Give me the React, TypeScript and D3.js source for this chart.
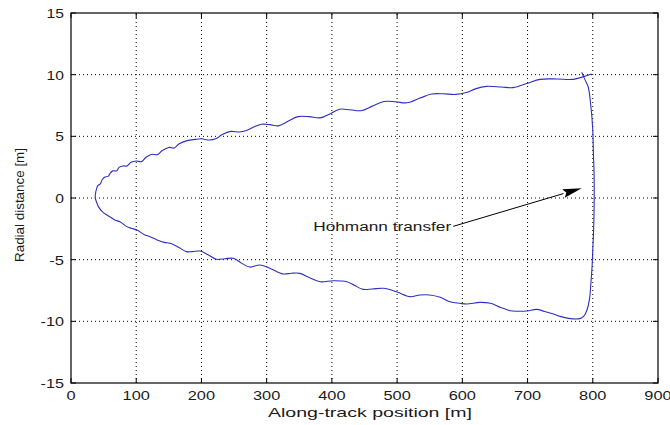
import React from "react";
import * as d3 from "d3";

// Upper branch of the relative trajectory, left to right (along-track m, radial m)
const upperX = [37, 38, 41, 45, 48, 52, 57, 60, 64, 70, 74, 80, 86, 92, 100, 108, 115, 124, 132, 140, 150, 158, 166, 178, 190, 200, 212, 222, 232, 245, 258, 268, 280, 292, 305, 318, 332, 348, 365, 382, 396, 412, 428, 445, 462, 480, 498, 515, 535, 553, 570, 590, 606, 620, 637, 660, 678, 700, 719, 745, 770, 786, 798];
const upperY = [0, 0.5, 1.0, 1.15, 1.5, 1.7, 1.75, 2.0, 2.2, 2.2, 2.5, 2.6, 2.6, 2.9, 3.0, 2.95, 3.3, 3.55, 3.5, 3.85, 4.1, 4.05, 4.4, 4.65, 4.75, 4.8, 4.7, 4.8, 5.15, 5.4, 5.35, 5.45, 5.75, 5.98, 5.95, 5.85, 6.2, 6.6, 6.6, 6.5, 6.8, 7.2, 7.15, 7.08, 7.45, 7.82, 7.8, 7.72, 8.1, 8.43, 8.45, 8.4, 8.55, 8.85, 9.05, 9.0, 8.95, 9.3, 9.62, 9.65, 9.62, 9.84, 10.05];

// Right-hand descent and lower branch, right to left
const lowerX = [783, 788, 793, 797, 800, 801, 802, 802, 801, 800, 799, 797, 795, 791, 786, 780, 763, 750, 740, 726, 714, 699, 685, 673, 658, 643, 627, 607, 596, 581, 566, 550, 535, 520, 499, 479, 462, 448, 435, 423, 402, 382, 365, 351, 338, 325, 307, 290, 274, 262, 249, 236, 223, 210, 198, 186, 177, 165, 152, 143, 132, 121, 112, 101, 92, 85, 75, 68, 62, 55, 48, 42, 39, 37];
const lowerY = [10.2, 9.6, 9.0, 7.5, 5.5, 3.5, 2.0, -1.0, -3.0, -4.2, -5.5, -7.0, -8.2, -9.1, -9.6, -9.78, -9.76, -9.6, -9.41, -9.2, -9.03, -9.16, -9.18, -9.14, -8.85, -8.54, -8.46, -8.6, -8.54, -8.41, -8.05, -7.86, -7.86, -8.0, -7.6, -7.32, -7.38, -7.41, -7.1, -6.79, -6.71, -6.79, -6.45, -6.11, -6.1, -6.16, -5.75, -5.43, -5.6, -5.3, -4.89, -4.92, -4.97, -4.6, -4.3, -4.35, -4.35, -4.0, -3.67, -3.6, -3.4, -3.14, -2.95, -2.6, -2.45, -2.3, -1.92, -1.8, -1.6, -1.38, -1.1, -0.7, -0.3, 0];

const xTicks = [0, 100, 200, 300, 400, 500, 600, 700, 800, 900];
const yTicks = [-15, -10, -5, 0, 5, 10, 15];

const xLabel = "Along-track position [m]";
const yLabel = "Radial distance [m]";
const noteText = "Hohmann transfer";
// annotation: text end / arrow tail, and arrow tip (data units)
const noteTail = [586, -2.3];
const noteTip = [783, 0.8];

const W = 670;
const H = 425;
const FONT = "'Liberation Sans', Arial, sans-serif";
const INK = "#1a1a1a";

export default function App() {
  const x = d3.scaleLinear().domain([0, 900]).range([71, 658]);
  const y = d3.scaleLinear().domain([-15, 15]).range([383, 13]);

  const pts: [number, number][] = [];
  lowerX.forEach((v, i) => pts.push([v, lowerY[i]]));
  upperX.forEach((v, i) => pts.push([v, upperY[i]]));
  const line = d3
    .line<[number, number]>()
    .x((d) => x(d[0]))
    .y((d) => y(d[1]))
    .curve(d3.curveCatmullRom.alpha(0.5));

  const [x0, x1] = x.range();
  const [y0, y1] = y.range(); // y0 bottom, y1 top
  const tickLen = 5;

  // arrow geometry
  const tx = x(noteTail[0]);
  const ty = y(noteTail[1]);
  const hx = x(noteTip[0]);
  const hy = y(noteTip[1]);
  const ang = Math.atan2(hy - ty, hx - tx);
  const headL = 19;
  const headW = 4.5;
  const bx = hx - headL * Math.cos(ang);
  const by = hy - headL * Math.sin(ang);
  const nx = -Math.sin(ang);
  const ny = Math.cos(ang);
  const head = `${hx},${hy} ${bx + nx * headW},${by + ny * headW} ${bx + 3 * Math.cos(ang)},${by + 3 * Math.sin(ang)} ${bx - nx * headW},${by - ny * headW}`;

  return (
    <svg
      width={W}
      height={H}
      style={{ position: "absolute", left: 0, top: 0, background: "#fff" }}
      fontFamily={FONT}
    >
      <rect x={0} y={0} width={W} height={H} fill="#fff" />

      {/* dotted grid */}
      {xTicks.slice(1, -1).map((t) => (
        <line key={"gx" + t} x1={x(t)} x2={x(t)} y1={y0} y2={y1} stroke="#000" strokeWidth={1} strokeDasharray="1,3" />
      ))}
      {yTicks.slice(1, -1).map((t) => (
        <line key={"gy" + t} x1={x0} x2={x1} y1={y(t)} y2={y(t)} stroke="#000" strokeWidth={1} strokeDasharray="1,3" />
      ))}

      {/* trajectory */}
      <path d={line(pts) || ""} fill="none" stroke="#2f2fbf" strokeWidth={1.1} strokeLinejoin="round" />

      {/* axes box */}
      <rect x={x0} y={y1} width={x1 - x0} height={y0 - y1} fill="none" stroke="#000" strokeWidth={1.2} />

      {/* tick marks, inward on all sides */}
      {xTicks.map((t) => (
        <g key={"tx" + t}>
          <line x1={x(t)} x2={x(t)} y1={y0} y2={y0 - tickLen} stroke="#000" />
          <line x1={x(t)} x2={x(t)} y1={y1} y2={y1 + tickLen} stroke="#000" />
        </g>
      ))}
      {yTicks.map((t) => (
        <g key={"ty" + t}>
          <line x1={x0} x2={x0 + tickLen} y1={y(t)} y2={y(t)} stroke="#000" />
          <line x1={x1} x2={x1 - tickLen} y1={y(t)} y2={y(t)} stroke="#000" />
        </g>
      ))}

      {/* tick labels */}
      {xTicks.map((t) => {
        const s = String(t);
        return (
          <text
            key={"lx" + t}
            x={x(t)}
            y={400}
            fontSize={13}
            textAnchor="middle"
            textLength={s.length * 9.1}
            lengthAdjust="spacingAndGlyphs"
            fill={INK}
          >
            {s}
          </text>
        );
      })}
      {yTicks.map((t) => {
        const s = String(t);
        const w = s.replace("-", "").length * 8.7 + (t < 0 ? 6 : 0);
        return (
          <text
            key={"ly" + t}
            x={64}
            y={y(t) + 5}
            fontSize={13}
            textAnchor="end"
            textLength={w}
            lengthAdjust="spacingAndGlyphs"
            fill={INK}
          >
            {s}
          </text>
        );
      })}

      {/* axis titles */}
      <text
        x={370}
        y={417}
        fontSize={13}
        textAnchor="middle"
        textLength={204}
        lengthAdjust="spacingAndGlyphs"
        fill={INK}
      >
        {xLabel}
      </text>
      <text
        transform={`translate(24,205) rotate(-90)`}
        fontSize={13}
        textAnchor="middle"
        textLength={114}
        lengthAdjust="spacingAndGlyphs"
        fill={INK}
      >
        {yLabel}
      </text>

      {/* annotation */}
      <line x1={tx} y1={ty} x2={bx} y2={by} stroke="#000" strokeWidth={1} />
      <polygon points={head} fill="#000" />
      <text
        x={tx - 2}
        y={ty + 5}
        fontSize={12.5}
        textAnchor="end"
        textLength={138}
        lengthAdjust="spacingAndGlyphs"
        fill={INK}
      >
        {noteText}
      </text>
    </svg>
  );
}
